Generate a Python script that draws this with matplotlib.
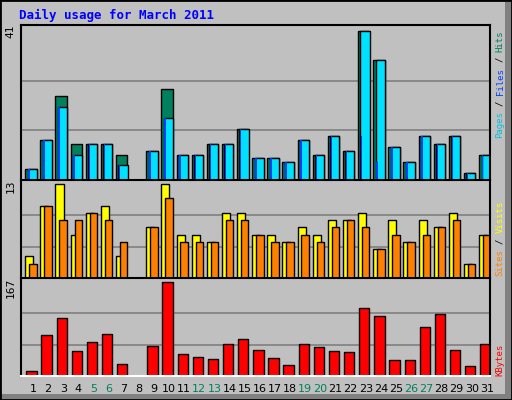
import matplotlib
matplotlib.use('Agg')
import numpy as np
import matplotlib.pyplot as plt
from matplotlib.patches import Rectangle

W, H = 512, 400
BG = '#C0C0C0'

days = np.arange(1, 32)
hits = [3, 11, 23, 10, 10, 10, 7, 0, 8, 25, 7, 7, 10, 10, 14, 6,
        6, 5, 11, 7, 12, 8, 41, 33, 9, 5, 12, 10, 12, 2, 7]
files = [3, 11, 20, 7, 10, 10, 4, 0, 8, 17, 7, 7, 10, 10, 14, 6,
         6, 5, 11, 7, 12, 8, 41, 33, 9, 5, 12, 10, 12, 2, 7]
pages = [3, 11, 20, 7, 10, 10, 4, 0, 8, 17, 7, 7, 10, 10, 14, 6,
         6, 5, 11, 7, 12, 8, 12, 5, 9, 5, 12, 10, 12, 2, 7]
visits = [3, 10, 13, 6, 9, 10, 3, 0, 7, 13, 6, 6, 5, 9, 9, 6,
          6, 5, 7, 6, 8, 8, 9, 4, 8, 5, 8, 7, 9, 2, 6]
sites = [2, 10, 8, 8, 9, 8, 5, 0, 7, 11, 5, 5, 5, 8, 8, 6,
         5, 5, 6, 5, 7, 8, 7, 4, 6, 5, 6, 7, 8, 2, 6]
kbytes = [8, 72, 103, 44, 61, 74, 21, 0, 54, 167, 39, 34, 30, 57, 65, 46,
          32, 19, 57, 52, 44, 43, 121, 107, 28, 28, 87, 109, 46, 17, 57]
weekend = [5, 6, 12, 13, 19, 20, 26, 27]

fig = plt.figure(figsize=(W / 100, H / 100), dpi=100, facecolor=BG)
MONO = 'DejaVu Sans Mono'

# outer frame with shadow
fig.patches.append(Rectangle((505 / W, 0), 7 / W, 1, transform=fig.transFigure,
                             color='#808080', lw=0))
fig.patches.append(Rectangle((0, 0), 1, 6 / H, transform=fig.transFigure,
                             color='#808080', lw=0))
fig.patches.append(Rectangle((0, 0), 1, 1, transform=fig.transFigure,
                             fill=False, edgecolor='black', lw=2))


def axes_px(x0, y0, x1, y1):
    ax = fig.add_axes([x0 / W, 1 - y1 / H, (x1 - x0) / W, (y1 - y0) / H])
    ax.set_facecolor(BG)
    ax.set_xlim(0.5, 31.5)
    ax.set_xticks([])
    ax.set_yticks([])
    for s in ax.spines.values():
        s.set_linewidth(1.5)
    ax.spines['bottom'].set_color('white')
    return ax


def grid(ax, top):
    for f in (1 / 3, 2 / 3):
        ax.axhline(top * f, color='#808080', lw=1.2, zorder=0)
    ax.set_ylim(0, top * 1.04)


def bars(ax, left_off, width, vals, color):
    ax.bar(days + left_off, vals, width=width, align='edge', color=color,
           edgecolor='black', linewidth=1, zorder=2)


ax1 = axes_px(21, 25, 490, 180)
grid(ax1, 41)
bars(ax1, -0.22, 0.75, hits, '#00805C')
bars(ax1, -0.06, 0.6, files, '#00E0FF')
ax1.bar(days - 0.03, pages, width=0.1, align='edge', color='#0040FF', lw=0, zorder=3)

ax2 = axes_px(21, 180, 490, 278)
grid(ax2, 13)
bars(ax2, -0.22, 0.53, visits, '#FFFF00')
bars(ax2, 0.04, 0.49, sites, '#FF8000')

ax3 = axes_px(21, 278, 490, 376)
grid(ax3, 167)
bars(ax3, -0.15, 0.68, kbytes, '#FF0000')

for ax, top in ((ax1, '41'), (ax2, '13'), (ax3, '167')):
    ax.text(-0.012, 1.0, top, transform=ax.transAxes, rotation=90,
            ha='right', va='top', fontsize=8, family=MONO)

for d in days:
    ax3.text(d + 0.29, -0.13, str(d), transform=ax3.get_xaxis_transform(),
             ha='center', va='center', fontsize=8, family='DejaVu Sans',
             color='#00805C' if d in weekend else 'black')

fig.text(19 / W, 1 - 15 / H, 'Daily usage for March 2011', color='#0000FF',
         fontsize=9, fontweight='bold', family=MONO, va='center')


def side_label(parts, y_bottom):
    y = y_bottom
    for txt, col in parts:
        fig.text(500 / W, 1 - y / H, txt, rotation=90, color=col, fontsize=6.5,
                 family=MONO, ha='center', va='bottom')
        y -= len(txt) * 5.4 + 5.4


side_label([('Pages', '#00C0E0'), ('/', 'black'), ('Files', '#0040FF'),
            ('/', 'black'), ('Hits', '#00805C')], 138)
side_label([('Sites', '#FF8000'), ('/', 'black'), ('Visits', '#FFFF00')], 276)
side_label([('KBytes', '#FF0000')], 376)

fig.savefig('out.png', dpi=100, facecolor=BG)
